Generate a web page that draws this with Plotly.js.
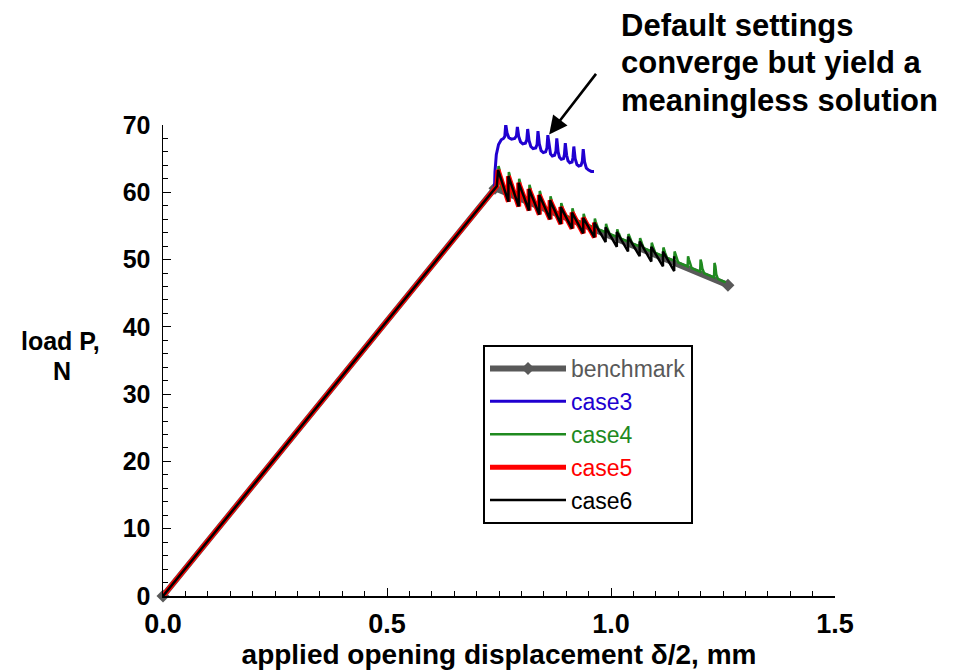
<!DOCTYPE html>
<html>
<head>
<meta charset="utf-8">
<script src="https://cdn.plot.ly/plotly-3.0.1.min.js"></script>
<style>
  html, body { margin: 0; padding: 0; background: #ffffff; }
  #chart { width: 962px; height: 670px; }
</style>
</head>
<body>
<div id="chart"></div>
<script>
// ---------------- data ----------------
var seriesNames = ["benchmark", "case3", "case4", "case5", "case6"];

var benchmarkX = [0, 0.741, 1.261];
var benchmarkY = [0, 60.6, 46.2];

var case3X = [0, 0.740, 0.741, 0.744, 0.749, 0.755, 0.760, 0.763,
  0.765, 0.768, 0.772, 0.778, 0.785, 0.789,
  0.791, 0.794, 0.798, 0.803, 0.809, 0.812,
  0.814, 0.817, 0.821, 0.826, 0.832, 0.835,
  0.837, 0.840, 0.844, 0.849, 0.854, 0.857,
  0.859, 0.862, 0.865, 0.869, 0.874, 0.877,
  0.879, 0.882, 0.885, 0.889, 0.894, 0.896,
  0.898, 0.901, 0.904, 0.908, 0.913, 0.915,
  0.917, 0.920, 0.924, 0.928, 0.933, 0.936,
  0.938, 0.941, 0.945, 0.950, 0.956, 0.962];
var case3Y = [0, 60.6, 63.0, 65.6, 67.1, 67.8, 68.0, 68.3,
  70.1, 68.8, 68.1, 67.9, 68.0, 68.4,
  69.7, 68.3, 67.5, 67.2, 67.3, 67.8,
  69.4, 67.7, 66.8, 66.5, 66.6, 67.1,
  69.1, 67.2, 66.2, 65.9, 66.0, 66.6,
  68.5, 66.6, 65.7, 65.4, 65.5, 66.1,
  68.0, 66.0, 65.2, 64.9, 65.0, 65.6,
  67.3, 65.5, 64.7, 64.4, 64.5, 65.1,
  66.8, 65.0, 64.1, 63.9, 64.0, 64.6,
  66.4, 64.5, 63.6, 63.3, 63.1, 63.1];

var case4X = [0, 0.745,
  0.746, 0.749, 0.751, 0.753, 0.757,
  0.771, 0.772, 0.774, 0.776, 0.780,
  0.794, 0.795, 0.797, 0.799, 0.803,
  0.817, 0.818, 0.820, 0.822, 0.826,
  0.840, 0.841, 0.843, 0.845, 0.849,
  0.864, 0.865, 0.867, 0.869, 0.873,
  0.888, 0.889, 0.891, 0.893, 0.897,
  0.913, 0.914, 0.916, 0.918, 0.922,
  0.938, 0.939, 0.941, 0.943, 0.947,
  0.963, 0.964, 0.966, 0.968, 0.972,
  0.988, 0.989, 0.991, 0.993, 0.997,
  1.013, 1.014, 1.016, 1.018, 1.022,
  1.038, 1.039, 1.041, 1.043, 1.047,
  1.064, 1.065, 1.067, 1.069, 1.073,
  1.090, 1.091, 1.093, 1.095, 1.099,
  1.116, 1.117, 1.119, 1.121, 1.125,
  1.141, 1.142, 1.144, 1.146, 1.150,
  1.171, 1.172, 1.174, 1.176, 1.180,
  1.199, 1.200, 1.202, 1.204, 1.208,
  1.230, 1.231, 1.233, 1.235, 1.239,
  1.256];
var case4Y = [0, 60.9,
  61.0, 63.9, 63.4, 61.2, 60.5,
  60.07, 63.0, 62.5, 60.52, 59.82,
  59.43, 62.0, 61.5, 59.88, 59.18,
  58.79, 61.1, 60.6, 59.24, 58.54,
  58.16, 60.2, 59.7, 58.61, 57.91,
  57.49, 59.4, 58.9, 57.94, 57.24,
  56.83, 58.4, 57.9, 57.28, 56.58,
  56.14, 57.6, 57.1, 56.59, 55.89,
  55.44, 56.8, 56.3, 55.89, 55.19,
  54.75, 56.1, 55.6, 55.2, 54.5,
  54.06, 55.3, 54.8, 54.51, 53.81,
  53.37, 54.5, 54.0, 53.82, 53.12,
  52.67, 53.8, 53.3, 53.12, 52.42,
  51.95, 53.2, 52.7, 52.4, 51.7,
  51.23, 52.5, 52.0, 51.68, 50.98,
  50.51, 51.8, 51.3, 50.96, 50.26,
  49.82, 51.2, 50.7, 50.27, 49.57,
  48.99, 50.5, 50.0, 49.44, 48.74,
  48.21, 50.0, 49.5, 48.66, 47.96,
  47.35, 49.5, 49.0, 47.8, 47.1,
  46.6];

var case5X = [0, 0.745, 0.748, 0.771, 0.771, 0.794, 0.794, 0.817, 0.817,
  0.840, 0.840, 0.864, 0.864, 0.888, 0.888, 0.913, 0.913, 0.938, 0.938,
  0.963, 0.963];
var case5Y = [0, 60.9, 63.3, 58.6, 62.4, 57.9, 61.4, 57.3, 60.5,
  56.7, 59.6, 56.0, 58.8, 55.3, 57.8, 54.6, 57.0, 53.9, 56.2,
  53.3, 55.5];

var case6X = [0, 0.745, 0.748, 0.771, 0.771, 0.794, 0.794, 0.817, 0.817,
  0.840, 0.840, 0.864, 0.864, 0.888, 0.888, 0.913, 0.913, 0.938, 0.938,
  0.963, 0.963, 0.988, 0.988, 1.013, 1.013, 1.038, 1.038, 1.064, 1.064,
  1.090, 1.090, 1.116, 1.116, 1.141, 1.141];
var case6Y = [0, 60.9, 63.3, 58.6, 62.4, 57.9, 61.4, 57.3, 60.5,
  56.7, 59.6, 56.0, 58.8, 55.3, 57.8, 54.6, 57.0, 53.9, 56.2,
  53.3, 55.5, 52.6, 54.8, 51.9, 54.1, 51.2, 53.4, 50.5, 52.7,
  49.7, 51.9, 49.0, 51.2, 48.3, 50.5];

var xTickVals = [0, 0.5, 1.0, 1.5];
var xTickText = ["0.0", "0.5", "1.0", "1.5"];
var yTickVals = [0, 10, 20, 30, 40, 50, 60, 70];

var noteLines = ["Default settings", "converge but yield a", "meaningless solution"];
var yTitleLines = ["load P,", "N"];
var xTitleText = "applied opening displacement δ/2, mm";
var arrowTip = {x: 0.862, y: 68.6};

// ---------------- styles ----------------
var colors = {benchmark: "#595959", case3: "#2000d0", case4: "#1f8a1f", case5: "#ff0000", case6: "#000000"};
var FONT = "Liberation Sans, Arial, Helvetica, sans-serif";

function nm(key) {
  return '<span style="color:' + colors[key] + '">' + key + '</span>';
}

var traces = [
  {x: benchmarkX, y: benchmarkY, name: nm("benchmark"),
   mode: "lines+markers", line: {color: colors.benchmark, width: 6},
   marker: {symbol: "diamond", size: 10, color: colors.benchmark}, cliponaxis: false},
  {x: case3X, y: case3Y, name: nm("case3"),
   mode: "lines", line: {color: colors.case3, width: 3}, cliponaxis: false},
  {x: case4X, y: case4Y, name: nm("case4"),
   mode: "lines", line: {color: colors.case4, width: 2.5}, cliponaxis: false},
  {x: case5X, y: case5Y, name: nm("case5"),
   mode: "lines", line: {color: colors.case5, width: 5}, cliponaxis: false},
  {x: case6X, y: case6Y, name: nm("case6"),
   mode: "lines", line: {color: colors.case6, width: 2.5}, cliponaxis: false}
];

function py(p) { return (596 - p) / 471; }   // pixel row -> paper y (plot spans rows 125..596)
function px(p) { return (p - 163) / 672; }   // pixel column -> paper x (plot spans cols 163..835)

var annotations = [];
// y-axis title, drawn horizontally in two tight lines
annotations.push({xref: "paper", yref: "paper", x: px(60), y: py(341), xanchor: "center", yanchor: "middle",
  text: "<b>" + yTitleLines[0] + "</b>", showarrow: false, font: {family: FONT, size: 25, color: "#000"}});
annotations.push({xref: "paper", yref: "paper", x: px(62), y: py(371), xanchor: "center", yanchor: "middle",
  text: "<b>" + yTitleLines[1] + "</b>", showarrow: false, font: {family: FONT, size: 25, color: "#000"}});
// note text, one annotation per line for tight spacing
var noteRows = [25, 62, 100];
for (var i = 0; i < noteLines.length; i++) {
  annotations.push({xref: "paper", yref: "paper", x: px(619), y: py(noteRows[i]), xanchor: "left", yanchor: "middle",
    text: "<b>" + noteLines[i] + "</b>", showarrow: false, align: "left",
    font: {family: FONT, size: 31, color: "#000"}});
}
annotations.push({xref: "x", yref: "y", x: arrowTip.x, y: arrowTip.y, text: "", showarrow: true,
  axref: "pixel", ayref: "pixel", ax: 48, ay: -62,
  arrowhead: 2, arrowsize: 1.4, arrowwidth: 2.6, arrowcolor: "#000000", standoff: 0});

var layout = {
  width: 962, height: 670,
  margin: {l: 163, r: 127, t: 125, b: 74, pad: 0},
  paper_bgcolor: "#ffffff", plot_bgcolor: "#ffffff",
  font: {family: FONT, color: "#000000"},
  showlegend: true,
  legend: {
    x: px(483), y: py(345), xanchor: "left", yanchor: "top",
    bgcolor: "#ffffff", bordercolor: "#000000", borderwidth: 2,
    font: {family: FONT, size: 23},
    tracegroupgap: 0, itemwidth: 76, traceorder: "normal"
  },
  xaxis: {
    range: [0, 1.5], showgrid: false, zeroline: false,
    showline: true, linecolor: "#000000", linewidth: 1.5,
    ticks: "inside", ticklen: 8, tickwidth: 1, tickcolor: "#000000",
    tickvals: xTickVals, ticktext: xTickText,
    tickfont: {family: FONT, size: 27, color: "#000000", weight: "bold"},
    ticklabelstandoff: 3,
    minor: {dtick: 0.05, ticks: "inside", ticklen: 5, tickcolor: "#000000", tickwidth: 1, showgrid: false},
    title: {text: "<b>" + xTitleText + "</b>", font: {family: FONT, size: 28, color: "#000000"}, standoff: 6}
  },
  yaxis: {
    range: [0, 70], showgrid: false, zeroline: false,
    showline: true, linecolor: "#000000", linewidth: 1.5,
    ticks: "inside", ticklen: 8, tickwidth: 1, tickcolor: "#000000",
    tickvals: yTickVals,
    tickfont: {family: FONT, size: 25, color: "#000000", weight: "bold"},
    ticklabelstandoff: 6,
    minor: {dtick: 2, ticks: "inside", ticklen: 5, tickcolor: "#000000", tickwidth: 1, showgrid: false}
  },
  annotations: annotations
};

Plotly.newPlot("chart", traces, layout, {displayModeBar: false, staticPlot: true});
</script>
</body>
</html>
